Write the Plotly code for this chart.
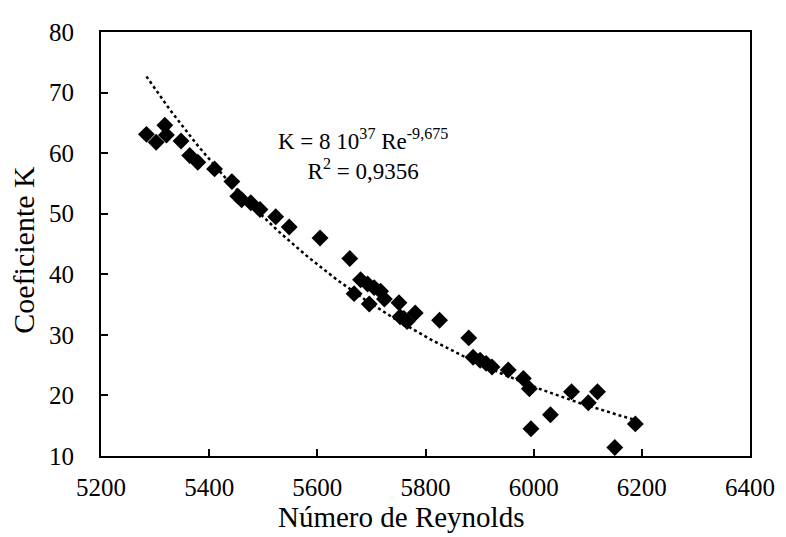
import numpy as np
import plotly.graph_objects as go

reynolds = [5284, 5302, 5318, 5321, 5348, 5364, 5379, 5410, 5442, 5453, 5460, 5477,
            5494, 5523, 5548, 5605, 5660, 5668, 5680, 5693, 5696, 5705, 5717, 5724,
            5751, 5753, 5760, 5766, 5781, 5826, 5880, 5888, 5901, 5912, 5923, 5953,
            5981, 5992, 5995, 6031, 6070, 6101, 6118, 6150, 6188]
coef_k = [63.1, 61.8, 64.6, 63.0, 62.0, 59.6, 58.5, 57.4, 55.3, 52.9, 52.3, 51.8,
          50.7, 49.5, 47.8, 46.0, 42.6, 36.8, 39.1, 38.4, 35.1, 37.8, 37.2, 35.9,
          35.3, 33.0, 32.7, 32.2, 33.6, 32.4, 29.5, 26.3, 25.8, 25.3, 24.7, 24.2,
          22.8, 21.1, 14.5, 16.8, 20.6, 18.8, 20.6, 11.4, 15.3]

x_ticks = [5200, 5400, 5600, 5800, 6000, 6200, 6400]
y_ticks = [10, 20, 30, 40, 50, 60, 70, 80]

# Power-law trendline fitted from the data (log-log least squares)
lx = np.log(np.array(reynolds, dtype=float))
ly = np.log(np.array(coef_k, dtype=float))
b, a = np.polyfit(lx, ly, 1)
xt = np.linspace(min(reynolds), max(reynolds), 200)
yt = np.exp(a) * xt ** b

font = "Liberation Serif, Times New Roman, serif"

fig = go.Figure()
fig.add_trace(go.Scatter(x=xt, y=yt, mode="lines",
                         line=dict(color="black", width=2.5, dash="dot"),
                         hoverinfo="skip", showlegend=False))
fig.add_trace(go.Scatter(x=reynolds, y=coef_k, mode="markers",
                         marker=dict(symbol="diamond", size=13, color="black"),
                         showlegend=False))

fig.add_annotation(x=5685, y=59.8, xref="x", yref="y", showarrow=False,
                   text="K = 8 10<sup>37</sup> Re<sup>-9,675</sup><br>R<sup>2</sup> = 0,9356",
                   align="center", font=dict(family=font, size=23, color="black"))

# Axis titles
fig.add_annotation(x=0.462, y=-0.145, xref="paper", yref="paper", showarrow=False,
                   text="Número de Reynolds", xanchor="center", yanchor="middle",
                   font=dict(family=font, size=29, color="black"))
fig.add_annotation(x=-0.119, y=0.486, xref="paper", yref="paper", showarrow=False,
                   text="Coeficiente K", textangle=-90, xanchor="center", yanchor="middle",
                   font=dict(family=font, size=30, color="black"))

fig.update_layout(
    width=778, height=529,
    margin=dict(l=93, r=32, t=11, b=81),
    paper_bgcolor="white", plot_bgcolor="white",
    font=dict(family=font, size=25, color="black"),
    xaxis=dict(range=[5200, 6400], tickvals=x_ticks, ticks="inside", ticklen=7,
               tickwidth=1.5, tickcolor="black", showline=True, linecolor="black",
               linewidth=1.8, mirror=True, showgrid=False, zeroline=False,
               ticklabelstandoff=8, ticklabeloverflow="allow"),
    yaxis=dict(range=[10, 80], tickvals=y_ticks, ticks="inside", ticklen=7,
               tickwidth=1.5, tickcolor="black", showline=True, linecolor="black",
               linewidth=1.8, mirror=True, showgrid=False, zeroline=False,
               ticklabelstandoff=20, ticklabeloverflow="allow"),
)

fig.write_html("out.html")
